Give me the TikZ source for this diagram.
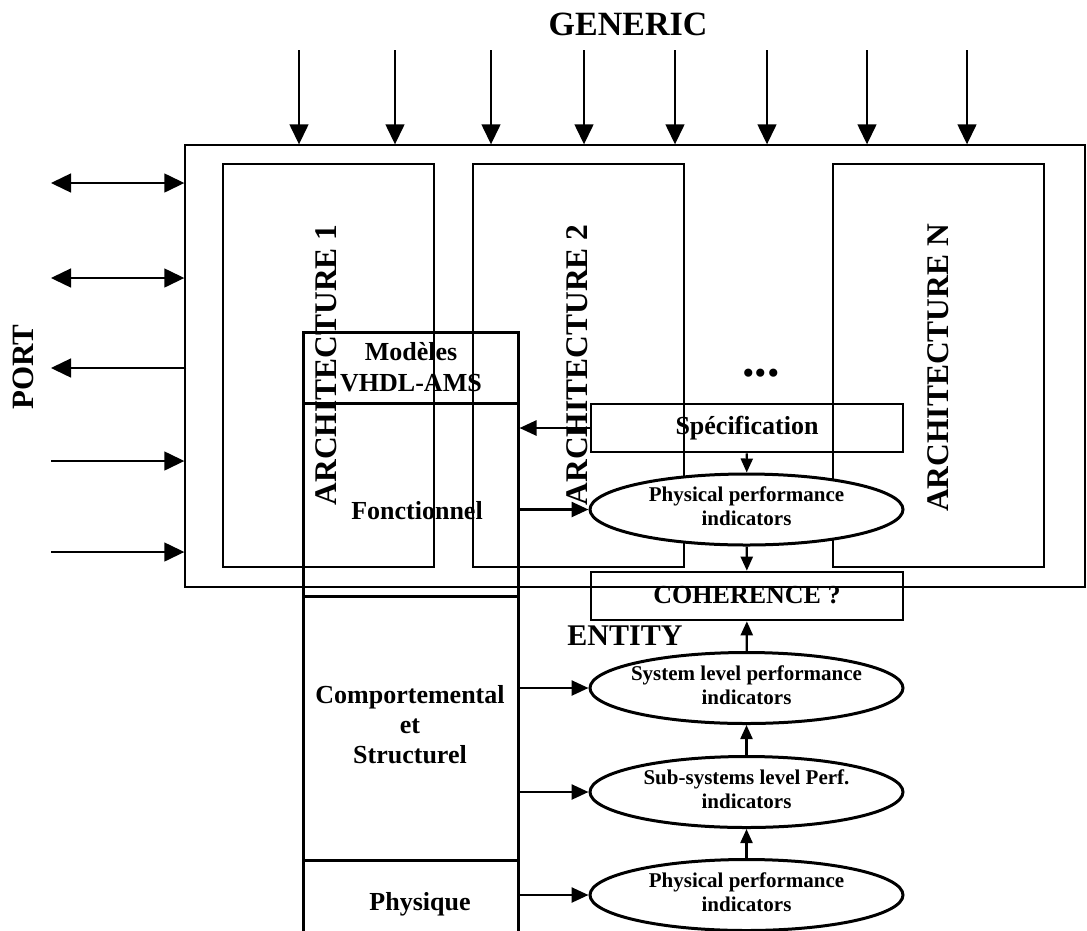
\documentclass[tikz,border=0pt]{standalone}
\usepackage{fontspec}
\setmainfont{Liberation Serif}
\usetikzlibrary{arrows.meta,shapes.geometric}
\newcommand\myfs[2]{\fontsize{#1pt}{#2pt}\selectfont\bfseries}
\newcommand\lowdepth{\rule[-6pt]{0pt}{6pt}}

\begin{document}
\begin{tikzpicture}[x=1pt,y=-1pt,
  thinframe/.style={draw,line width=1.4pt,rectangle,inner sep=0pt},
  archbox/.style={thinframe,minimum width=211pt,minimum height=403pt},
  colpart/.style={draw,line width=3pt,rectangle,inner sep=0pt,minimum width=215pt},
  flowbox/.style={draw,line width=2.6pt,rectangle,inner sep=0pt,minimum width=312pt,minimum height=48pt,font=\myfs{26}{30}},
  indic/.style={draw,ellipse,line width=3pt,fill=white,inner sep=0pt,minimum width=313pt,minimum height=71pt},
  indictxt/.style={inner sep=0pt,align=center,font=\myfs{21}{24}},
  txt/.style={inner sep=0pt,anchor=base},
  vtxt/.style={inner sep=0pt,rotate=90},
  bigtip/.style={line width=1.4pt,-{Triangle[length=20pt,width=19pt]}},
  twotip/.style={line width=1.4pt,{Triangle[length=20pt,width=19pt]}-{Triangle[length=20pt,width=19pt]}},
  link/.style={line width=2.6pt,-{Triangle[length=17pt,width=15pt]}},
  vlink/.style={line width=2.2pt,-{Triangle[length=14pt,width=12pt]}},
]
\useasboundingbox (0,0) rectangle (1087,930);
\clip (0,0) rectangle (1087,930);

% entity frame and the architecture boxes
\node[thinframe,minimum width=900pt,minimum height=442pt] (entity) at (635,366) {};
\node[archbox] (arch1) at (328.5,365.5) {};
\node[archbox] (arch2) at (578.5,365.5) {};
\node[archbox] (archN) at (938.5,365.5) {};

% column of model levels
\node[colpart,minimum height=71pt]  (models) at (410.5,367.5) {};
\node[colpart,minimum height=193pt] (fonc)   at (410.5,499.5) {};
\node[colpart,minimum height=264pt] (comp)   at (410.5,728) {};
\node[colpart,minimum height=100pt] (physq)  at (410.5,910) {};

% indicators
\node[indic] (perf) at (746.5,509.5) {};
\node[indic] (sys)  at (746.5,688)   {};
\node[indic] (sub)  at (746.5,792)   {};
\node[indic] (phys) at (746.5,895)   {};
\node[indictxt] (perftxt) at (perf) {Physical performance\\indicators\lowdepth};
\node[indictxt] (systxt)  at (sys)  {System level performance\\indicators\lowdepth};
\node[indictxt] (subtxt)  at (sub)  {Sub-systems level Perf.\\indicators\lowdepth};
\node[indictxt] (phystxt) at (phys) {Physical performance\\indicators\lowdepth};

\node[flowbox] (spec) at (747,428) {Spécification};
\node[flowbox] (coh)  at (747,596) {\raisebox{3pt}{COHERENCE ?}};

% vertical flow
\draw[vlink] (spec) -- (perf);
\draw[vlink] (perf) -- (coh);
\draw[vlink] (sys) -- (coh);
\draw[vlink] (sub) -- (sys);
\draw[vlink] (phys) -- (sub);

% links between the column and the indicators
\draw[link] (spec.west) -- (spec.west -| fonc.east);
\draw[link] (fonc.east |- perf.west) -- (perf.west);
\draw[link] (comp.east |- sys.west) -- (sys.west);
\draw[link] (comp.east |- sub.west) -- (sub.west);
\draw[link] (physq.east |- phys.west) -- (phys.west);

% ports
\coordinate (p1) at (51,183);
\coordinate (p2) at (51,278);
\coordinate (p3) at (51,368);
\coordinate (p4) at (51,461);
\coordinate (p5) at (51,552);
\draw[twotip] (p1) -- (p1 -| entity.west);
\draw[twotip] (p2) -- (p2 -| entity.west);
\draw[bigtip] ([xshift=2pt]p3 -| entity.west) -- (p3);
\draw[bigtip] (p4) -- (p4 -| entity.west);
\draw[bigtip] (p5) -- (p5 -| entity.west);

% generics
\foreach \gx [count=\i] in {299,395,491,584,675,767,867,967} {
  \coordinate (g\i) at (\gx,50);
  \draw[bigtip] (g\i) -- (g\i |- entity.north);
}

% labels
\node[txt,font=\myfs{34}{40}] (generic) at (628,35) {GENERIC};
\node[vtxt,font=\myfs{31}{36}] (port) at (23,367) {PORT};
\node[vtxt,font=\myfs{31.5}{36}] (a1lbl) at (326,365) {ARCHITECTURE 1};
\node[vtxt,font=\myfs{31.5}{36}] (a2lbl) at (577,365) {ARCHITECTURE 2};
\node[vtxt,font=\myfs{31.5}{36}] (aNlbl) at (938,368) {ARCHITECTURE N};
\node[txt,font=\myfs{50}{56}] (dots) at (761,376) {...};
\node[txt,font=\myfs{30}{34}] (entlbl) at (625,645) {ENTITY};

\node[txt,font=\myfs{26}{30}] (m1) at (411,360) {Modèles};
\node[txt,font=\myfs{26}{30}] (m2) at (411,391) {VHDL-AMS};
\node[txt,font=\myfs{26}{30}] (ft) at (417,519) {Fonctionnel};
\node[txt,font=\myfs{26}{30}] (c1) at (410,703) {Comportemental};
\node[txt,font=\myfs{26}{30}] (c2) at (410,733) {et};
\node[txt,font=\myfs{26}{30}] (c3) at (410,763) {Structurel};
\node[txt,font=\myfs{26}{30}] (pq) at (420,910) {Physique};
\end{tikzpicture}
\end{document}
